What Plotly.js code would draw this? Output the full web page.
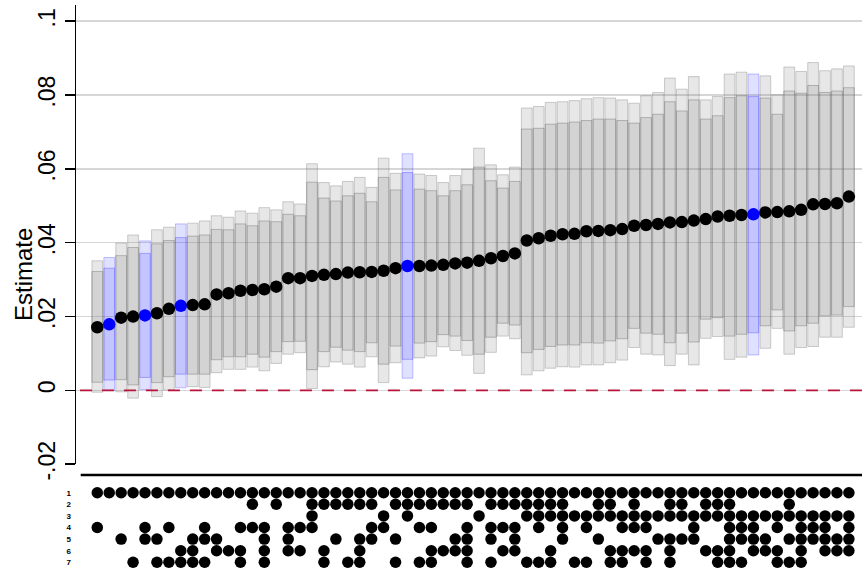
<!DOCTYPE html>
<html>
<head>
<meta charset="utf-8">
<script src="https://cdn.plot.ly/plotly-3.0.1.min.js"></script>
<style>
  html, body { margin: 0; padding: 0; background: #ffffff; }
  #chart { width: 862px; height: 571px; }
</style>
</head>
<body>
<div id="chart"></div>
<script>
// ---- Data (64 specifications, sorted by estimate) ----
const estimate = [
  0.0171,0.0179,0.0197,0.0200,0.0203,0.0209,0.0221,0.0229,0.0231,0.0233,
  0.0260,0.0263,0.0270,0.0272,0.0274,0.0281,0.0304,0.0304,0.0310,0.0313,
  0.0315,0.0319,0.0320,0.0321,0.0324,0.0331,0.0337,0.0337,0.0338,0.0340,
  0.0344,0.0346,0.0351,0.0358,0.0364,0.0371,0.0406,0.0412,0.0419,0.0423,
  0.0424,0.0431,0.0432,0.0434,0.0437,0.0446,0.0448,0.0451,0.0455,0.0456,
  0.0460,0.0464,0.0471,0.0473,0.0475,0.0477,0.0482,0.0483,0.0485,0.0489,
  0.0504,0.0505,0.0507,0.0525];

const hi95 = [
  0.0351,0.0360,0.0399,0.0421,0.0405,0.0435,0.0442,0.0451,0.0453,0.0459,
  0.0473,0.0469,0.0486,0.0480,0.0495,0.0489,0.0511,0.0505,0.0614,0.0563,
  0.0554,0.0566,0.0577,0.0550,0.0629,0.0588,0.0641,0.0586,0.0582,0.0563,
  0.0582,0.0599,0.0656,0.0611,0.0584,0.0605,0.0765,0.0769,0.0780,0.0782,
  0.0785,0.0790,0.0793,0.0792,0.0787,0.0778,0.0798,0.0807,0.0846,0.0816,
  0.0850,0.0787,0.0796,0.0857,0.0862,0.0857,0.0852,0.0801,0.0876,0.0864,
  0.0888,0.0866,0.0871,0.0879];

const hi90 = [
  0.0322,0.0331,0.0365,0.0387,0.0371,0.0397,0.0406,0.0414,0.0418,0.0421,
  0.0436,0.0435,0.0451,0.0446,0.0459,0.0457,0.0477,0.0473,0.0564,0.0521,
  0.0513,0.0527,0.0534,0.0511,0.0577,0.0543,0.0590,0.0545,0.0541,0.0527,
  0.0541,0.0557,0.0605,0.0568,0.0548,0.0566,0.0708,0.0710,0.0721,0.0724,
  0.0727,0.0731,0.0735,0.0735,0.0731,0.0724,0.0739,0.0748,0.0782,0.0757,
  0.0787,0.0735,0.0744,0.0793,0.0798,0.0796,0.0792,0.0748,0.0811,0.0805,
  0.0826,0.0807,0.0811,0.0820];

const lo90 = [
  0.0022,0.0028,0.0029,0.0015,0.0035,0.0021,0.0037,0.0044,0.0044,0.0044,
  0.0083,0.0091,0.0091,0.0098,0.0090,0.0105,0.0132,0.0133,0.0056,0.0105,
  0.0117,0.0109,0.0105,0.0129,0.0071,0.0120,0.0084,0.0128,0.0132,0.0151,
  0.0147,0.0135,0.0098,0.0144,0.0182,0.0177,0.0102,0.0111,0.0119,0.0123,
  0.0123,0.0129,0.0128,0.0134,0.0140,0.0168,0.0155,0.0152,0.0129,0.0155,
  0.0131,0.0193,0.0197,0.0147,0.0152,0.0156,0.0175,0.0218,0.0161,0.0175,
  0.0182,0.0202,0.0204,0.0227];

const lo95 = [
  -0.0005,0.0000,-0.0004,-0.0021,0.0002,-0.0017,0.0001,0.0007,0.0010,0.0008,
  0.0048,0.0057,0.0057,0.0063,0.0053,0.0073,0.0098,0.0102,0.0005,0.0064,
  0.0077,0.0071,0.0063,0.0091,0.0021,0.0075,0.0033,0.0088,0.0093,0.0118,
  0.0108,0.0095,0.0046,0.0103,0.0147,0.0140,0.0042,0.0053,0.0060,0.0064,
  0.0063,0.0069,0.0069,0.0075,0.0082,0.0116,0.0098,0.0096,0.0067,0.0098,
  0.0069,0.0141,0.0146,0.0084,0.0090,0.0096,0.0114,0.0168,0.0098,0.0116,
  0.0119,0.0144,0.0144,0.0171];

// specifications highlighted in blue (1-based position)
const highlighted = [2, 5, 8, 27, 56];

// specification indicator matrix, rows 1..7 (1 = included)
const row1 = "1111111111111111111111111111111111111111111111111111111111111111";
const row2 = "0000000000000101001111110111111101111111001101001101110000100000";
const row3 = "0000000000000000001000001010000010001111111111111111111111111111";
const row4 = "1000101001001110111000011001100101110101010011100010011101011101";
const row5 = "0010110011100010100010110100001101010001001000011110011110111111";
const row6 = "0000000110111010110100100000111100110010000111101001110111010111";
const row7 = "0001011111001010000101100101100101001110110110101000111001110000";
const indicatorRows = [row1, row2, row3, row4, row5, row6, row7];
const rowLabels = ["1", "2", "3", "4", "5", "6", "7"];

const yTickVals = [-0.02, 0, 0.02, 0.04, 0.06, 0.08, 0.1];
const yTickText = ["-.02", "0", ".02", ".04", ".06", ".08", ".1"];

// ---- Build traces ----
const spec = estimate.map((_, i) => i + 1);
const isHi = spec.map(s => highlighted.includes(s));

const outerFill = isHi.map(h => h ? "rgba(0,0,255,0.12)" : "rgba(128,128,128,0.19)");
const outerLine = isHi.map(h => h ? "rgba(60,60,255,0.30)" : "rgba(110,110,110,0.32)");
const innerFill = isHi.map(h => h ? "rgba(0,0,255,0.12)" : "rgba(128,128,128,0.19)");
const innerLine = isHi.map(h => h ? "rgba(60,60,255,0.35)" : "rgba(100,100,100,0.38)");
const dotColor = isHi.map(h => h ? "#0000ff" : "#000000");

const traces = [];
traces.push({
  type: "bar", x: spec, base: lo95, y: spec.map((_, i) => hi95[i] - lo95[i]),
  width: 0.9, marker: { color: outerFill, line: { color: outerLine, width: 1 } },
  hoverinfo: "skip", xaxis: "x", yaxis: "y", showlegend: false
});
traces.push({
  type: "bar", x: spec, base: lo90, y: spec.map((_, i) => hi90[i] - lo90[i]),
  width: 0.9, marker: { color: innerFill, line: { color: innerLine, width: 1 } },
  hoverinfo: "skip", xaxis: "x", yaxis: "y", showlegend: false
});
traces.push({
  type: "scatter", mode: "markers", x: spec, y: estimate,
  marker: { color: dotColor, size: 12.5, line: { width: 0 } },
  xaxis: "x", yaxis: "y", showlegend: false
});

indicatorRows.forEach((r, k) => {
  const xs = [], ys = [];
  for (let i = 0; i < r.length; i++) {
    if (r[i] === "1") { xs.push(spec[i]); ys.push(k + 1); }
  }
  traces.push({
    type: "scatter", mode: "markers", x: xs, y: ys,
    marker: { color: "#000000", size: 11.5, line: { width: 0 } },
    xaxis: "x", yaxis: "y2", showlegend: false, hoverinfo: "skip"
  });
});

const H = 571, T = 5, B = 0;
const plotH = H - T - B;
const pyFrac = py => (H - B - py) / plotH;   // page pixel -> paper fraction

const layout = {
  width: 862, height: 571,
  margin: { l: 76, r: 0, t: T, b: B },
  paper_bgcolor: "#ffffff", plot_bgcolor: "#ffffff",
  barmode: "overlay",
  font: { family: "Arial, 'Liberation Sans', sans-serif", color: "#000000" },
  xaxis: {
    range: [-0.785, 65.1], showgrid: false, zeroline: false,
    showticklabels: false, ticks: "", showline: false, fixedrange: true
  },
  yaxis: {
    domain: [pyFrac(464.2), 1], range: [-0.02, 0.1044],
    tickvals: yTickVals, ticktext: yTickText, tickangle: -90,
    tickfont: { size: 23, family: "Arial, 'Liberation Sans', sans-serif" },
    ticks: "outside", ticklen: 10, tickwidth: 1.5, tickcolor: "#000000",
    showline: true, linecolor: "#000000", linewidth: 1.5,
    showgrid: true, gridcolor: "#d6d6d6", gridwidth: 1.5,
    zeroline: false, anchor: "x"
  },
  yaxis2: {
    domain: [0, pyFrac(475)], range: [7.75, -0.526],
    tickvals: [1, 2, 3, 4, 5, 6, 7], ticktext: rowLabels.map(t => "<b>" + t + "</b>"),
    tickfont: { size: 8 }, ticks: "", showgrid: false, zeroline: false,
    showline: false, anchor: "x", ticklabelstandoff: 4
  },
  shapes: [
    { type: "line", xref: "paper", yref: "y", x0: 0.005, x1: 1, y0: 0, y1: 0,
      line: { color: "#b8143c", width: 1.8, dash: "12px,10px" }, layer: "above" },
    { type: "line", xref: "paper", yref: "paper", x0: (80.7 - 76) / 786, x1: 1,
      y0: pyFrac(475), y1: pyFrac(475), line: { color: "#000000", width: 2.5 } }
  ],
  annotations: [
    { text: "Estimate", xref: "paper", yref: "paper", x: (24 - 76) / 786, y: pyFrac(275),
      textangle: -90, showarrow: false, xanchor: "center", yanchor: "middle",
      font: { size: 24, color: "#000000" } }
  ]
};

Plotly.newPlot("chart", traces, layout, { displayModeBar: false, staticPlot: true });
</script>
</body>
</html>
